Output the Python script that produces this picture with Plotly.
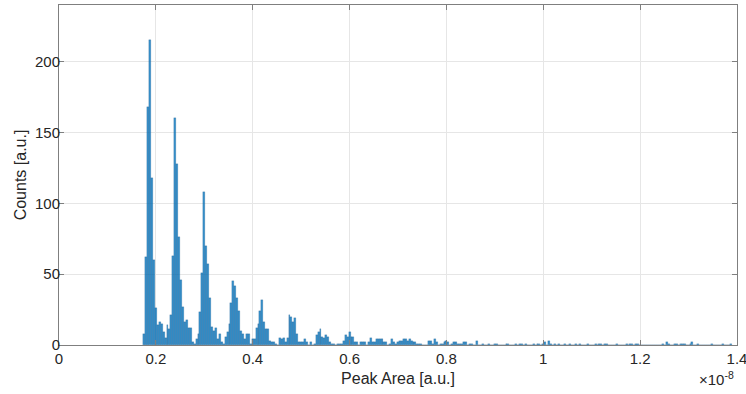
import plotly.graph_objects as go

# Histogram of peak areas (x in units of 1e-8 a.u.)
BIN_START = 0.174
BIN_WIDTH = 0.004
counts = [
    8, 62, 168, 215, 118, 60, 26, 14, 16, 15,            # 0-9
    9, 5, 14, 11, 21, 63, 160, 128, 76, 46,              # 10-19
    27, 16, 18, 12, 12, 2, 1, 4, 8, 23,                  # 20-29
    51, 108, 70, 57, 33, 13, 10, 12, 4, 8,               # 30-39
    2, 1, 6, 9, 15, 30, 45, 42, 33, 24,                  # 40-49
    10, 8, 4, 8, 8, 1, 4, 4, 12, 15,                     # 50-59
    24, 32, 16, 11, 11, 3, 2, 2, 1, 0,                   # 60-69
    5, 4, 5, 2, 5, 21, 20, 16, 19, 8,                    # 70-79
    2, 2, 2, 4, 2, 0, 2, 0, 1, 7,                        # 80-89
    9, 11, 6, 5, 7, 6, 2, 1, 1, 0,                       # 90-99
    1, 1, 1, 3, 7, 6, 9, 6, 6, 2,                        # 100-109
    2, 0, 2, 2, 2, 0, 2, 5, 2, 2,                        # 110-119
    4, 4, 4, 4, 2, 2, 0, 1, 4, 2,                        # 120-129
    1, 2, 3, 3, 4, 4, 3, 4, 3, 2,                        # 130-139
    2, 1, 1, 1, 0, 0, 0, 3, 3, 1,                        # 140-149
    4, 2, 0, 1, 1, 2, 3, 2, 0, 1,                        # 150-159
    2, 2, 1, 1, 1, 2, 2, 0, 1, 1,                        # 160-169
    0, 0, 3, 0, 0, 1, 0, 0, 1, 0,                        # 170-179
    0, 1, 1, 0, 0, 0, 0, 1, 1, 0,                        # 180-189
    0, 0, 1, 0, 1, 1, 0, 1, 0, 0,                        # 190-199
    0, 1, 0, 1, 1, 0, 1, 2, 0, 3,                        # 200-209
    1, 0, 1, 0, 1, 0, 0, 1, 0, 0,                        # 210-219
    1, 0, 0, 1, 0, 1, 0, 0, 0, 1,                        # 220-229
    0, 0, 0, 1, 0, 1, 1, 0, 1, 1,                        # 230-239
    0, 0, 0, 0, 1, 0, 0, 0, 0, 1,                        # 240-249
    0, 1, 1, 0, 1, 1, 0, 0, 0, 0,                        # 250-259
    0, 0, 0, 0, 0, 0, 0, 0, 1, 0,                        # 260-269
    2, 1, 0, 0, 1, 1, 0, 1, 1, 1,                        # 270-279
    0, 0, 1, 2, 0, 0, 1, 0, 0, 0,                        # 280-289
    0, 0, 0, 1, 0, 0, 0, 0, 0, 1,                        # 290-299
    0, 0, 0, 1,                                          # 300-303
]
x_tick_vals = [0, 0.2, 0.4, 0.6, 0.8, 1.0, 1.2, 1.4]
x_tick_text = ["0", "0.2", "0.4", "0.6", "0.8", "1", "1.2", "1.4"]
y_tick_vals = [0, 50, 100, 150, 200]

centers = [BIN_START + BIN_WIDTH * (i + 0.5) for i in range(len(counts))]

FONT = "Liberation Sans, Arial, Helvetica, sans-serif"
AX = "#262626"
GRID = "#e6e6e6"

fig = go.Figure()
fig.add_trace(go.Bar(
    x=centers, y=counts, width=[BIN_WIDTH] * len(counts),
    marker=dict(color="rgba(0,114,189,0.78)",
                line=dict(color="rgba(0,60,110,0.45)", width=0.4)),
    showlegend=False,
))

fig.update_layout(
    width=746, height=394,
    margin=dict(l=59, r=9, t=5, b=49),
    paper_bgcolor="white", plot_bgcolor="white",
    bargap=0,
    font=dict(family=FONT, size=15, color=AX),
    xaxis=dict(
        range=[0, 1.40001], tickvals=x_tick_vals, ticktext=x_tick_text,
        automargin=False, ticklabeloverflow="allow",
        showgrid=True, gridcolor=GRID, gridwidth=1, zeroline=False,
        showline=True, linecolor="#7f7f7f", linewidth=1, mirror="ticks",
        ticks="inside", ticklen=5, tickcolor="#7f7f7f",
        tickfont=dict(size=15, color=AX),
        title=dict(text="Peak Area [a.u.]", font=dict(size=16, color=AX), standoff=6),
    ),
    yaxis=dict(
        range=[0, 240], tickvals=y_tick_vals,
        automargin=False, ticklabelstandoff=-5,
        showgrid=True, gridcolor=GRID, gridwidth=1, zeroline=False,
        showline=True, linecolor="#7f7f7f", linewidth=1, mirror="ticks",
        ticks="inside", ticklen=5, tickcolor="#7f7f7f",
        tickfont=dict(size=15, color=AX),
        title=dict(text="Counts [a.u.]", font=dict(size=16, color=AX), standoff=4),
    ),
    annotations=[dict(
        text="\u00d710<sup>-8</sup>", xref="paper", yref="paper",
        x=1.0, y=0, xanchor="right", yanchor="top", yshift=-22, xshift=-1,
        showarrow=False, font=dict(size=15, color=AX),
    )],
)

fig.write_html("out.html", config={"displayModeBar": False},
               post_script="document.body.style.margin='0';")
